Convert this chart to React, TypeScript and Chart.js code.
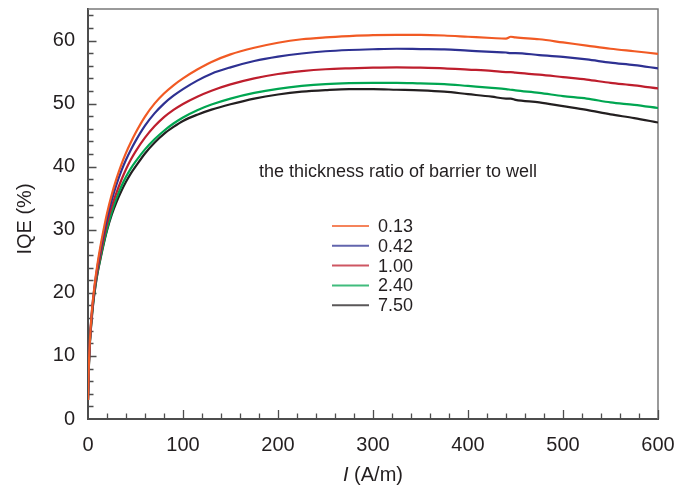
import React, { useEffect, useRef } from "react";
import { Chart, registerables } from "chart.js";

Chart.register(...registerables);

// Current density I (A/m)
const currents = [0, 1, 2, 4, 6, 8, 10, 13, 16, 20, 25, 30, 35, 40, 45, 50, 60, 70, 80, 90, 100, 115, 130, 150, 175, 200, 225, 250, 275, 300, 325, 350, 375, 400, 425, 440, 445, 450, 475, 500, 525, 550, 575, 600];

// IQE (%) for each thickness ratio of barrier to well
const iqe013 = [3, 9, 12.5, 17, 20, 22.5, 24.6, 27.3, 29.7, 32.6, 35.6, 38.1, 40.3, 42.2, 43.85, 45.35, 47.95, 50.0, 51.6, 52.9, 54.0, 55.4, 56.6, 57.8, 58.85, 59.65, 60.2, 60.5, 60.7, 60.85, 60.9, 60.9, 60.8, 60.6, 60.4, 60.3, 60.6, 60.5, 60.2, 59.7, 59.2, 58.7, 58.3, 57.9];
const iqe042 = [3, 9, 12.5, 16.8, 19.8, 22.2, 24.2, 26.8, 29.1, 31.8, 34.7, 37.2, 39.3, 41.1, 42.65, 44.05, 46.5, 48.45, 50.0, 51.25, 52.3, 53.65, 54.75, 55.75, 56.75, 57.45, 57.95, 58.3, 58.5, 58.62, 58.7, 58.65, 58.6, 58.4, 58.2, 58.1, 58.0, 58.0, 57.7, 57.4, 57.0, 56.5, 56.1, 55.6];
const iqe100 = [3, 8.8, 12.3, 16.5, 19.5, 21.8, 23.6, 26, 28.3, 31, 33.7, 35.9, 37.85, 39.6, 41.1, 42.4, 44.6, 46.4, 47.85, 49.0, 49.95, 51.1, 52.05, 53.05, 54.0, 54.7, 55.15, 55.45, 55.6, 55.7, 55.75, 55.7, 55.6, 55.4, 55.2, 55.0, 55.0, 54.9, 54.6, 54.2, 53.8, 53.3, 52.9, 52.4];
const iqe240 = [3, 8.7, 12.2, 16.3, 19.2, 21.4, 23.2, 25.5, 27.6, 30.1, 32.8, 35, 36.85, 38.4, 39.7, 40.8, 42.75, 44.35, 45.7, 46.85, 47.8, 48.95, 49.85, 50.8, 51.7, 52.35, 52.8, 53.1, 53.25, 53.3, 53.3, 53.2, 53.1, 52.8, 52.5, 52.3, 52.2, 52.1, 51.7, 51.2, 50.8, 50.2, 49.8, 49.3];
const iqe750 = [3, 8.6, 12, 16, 19, 21.2, 23.1, 25.3, 27.4, 29.9, 32.4, 34.4, 36.1, 37.6, 38.9, 40.0, 42.1, 43.8, 45.2, 46.3, 47.25, 48.25, 49.05, 49.9, 50.8, 51.45, 51.9, 52.15, 52.3, 52.3, 52.2, 52.1, 51.9, 51.5, 51.1, 50.8, 50.8, 50.6, 50.2, 49.6, 49.0, 48.3, 47.7, 47.0];

const seriesLabels = ["0.13", "0.42", "1.00", "2.40", "7.50"];
const seriesValues = [iqe013, iqe042, iqe100, iqe240, iqe750];
const seriesColors = ["#f15a24", "#2e3192", "#be1e2d", "#00a651", "#231f20"];

const legendTitle = "the thickness ratio of barrier to well";
const xTitleItalic = "I";
const xTitleRest = " (A/m)";
const yTitle = "IQE (%)";

const FONT = "'Liberation Sans', Arial, Helvetica, sans-serif";
const TEXT = "#231f20";
const AXIS = "#4d4d4d";

const framePlugin = {
  id: "frameTicks",
  beforeDatasetsDraw(chart: any) {
    const { ctx, chartArea: a, scales } = chart;
    const xs = scales.x;
    const ys = scales.y;
    ctx.save();
    ctx.strokeStyle = "#7a7a7a";
    ctx.lineWidth = 1.5;
    ctx.beginPath();
    ctx.moveTo(a.left, a.top);
    ctx.lineTo(a.right, a.top);
    ctx.lineTo(a.right, a.bottom);
    ctx.stroke();

    ctx.strokeStyle = AXIS;
    ctx.lineWidth = 1.3;
    ctx.beginPath();
    for (let v = 20; v <= 600; v += 20) {
      const px = Math.round(xs.getPixelForValue(v)) + 0.5;
      const len = v % 100 === 0 ? 9 : 5.5;
      ctx.moveTo(px, a.bottom);
      ctx.lineTo(px, a.bottom - len);
    }
    for (let v = 2; v <= 64; v += 2) {
      const py = Math.round(ys.getPixelForValue(v)) + 0.5;
      const len = v % 10 === 0 ? 8.5 : 5.5;
      ctx.moveTo(a.left, py);
      ctx.lineTo(a.left + len, py);
    }
    ctx.stroke();
    ctx.restore();
  },
  afterDraw(chart: any) {
    const { ctx, chartArea: a } = chart;
    ctx.save();
    ctx.fillStyle = TEXT;
    ctx.font = `18px ${FONT}`;
    ctx.textBaseline = "middle";
    ctx.textAlign = "left";
    ctx.fillText(legendTitle, a.left + 171, 172);
    chart.data.datasets.forEach((ds: any, i: number) => {
      const cy = 226 + i * 19.8;
      ctx.strokeStyle = ds.borderColor;
      ctx.globalAlpha = 0.75;
      ctx.lineWidth = 2;
      ctx.beginPath();
      ctx.moveTo(a.left + 244, cy);
      ctx.lineTo(a.left + 281, cy);
      ctx.stroke();
      ctx.globalAlpha = 1;
      ctx.fillStyle = TEXT;
      ctx.font = `18px ${FONT}`;
      ctx.fillText(ds.label, a.left + 290, cy + 1);
    });
    // x axis title with italic I
    ctx.font = `italic 20px ${FONT}`;
    const w1 = ctx.measureText(xTitleItalic).width;
    ctx.font = `20px ${FONT}`;
    const w2 = ctx.measureText(xTitleRest).width;
    const cx = (a.left + a.right) / 2;
    const start = cx - (w1 + w2) / 2;
    ctx.font = `italic 20px ${FONT}`;
    ctx.fillText(xTitleItalic, start, 475);
    ctx.font = `20px ${FONT}`;
    ctx.fillText(xTitleRest, start + w1, 475);
    // y axis title
    ctx.translate(25, (a.top + a.bottom) / 2 + 5);
    ctx.rotate(-Math.PI / 2);
    ctx.textAlign = "center";
    ctx.fillText(yTitle, 0, 0);
    ctx.restore();
  },
};

export default function App() {
  const canvasRef = useRef<HTMLCanvasElement | null>(null);

  useEffect(() => {
    const canvas = canvasRef.current;
    if (!canvas) return;
    const chart = new Chart(canvas, {
      type: "scatter",
      data: {
        datasets: seriesValues.map((vals, i) => ({
          label: seriesLabels[i],
          data: currents.map((c, j) => ({ x: c, y: vals[j] })),
          showLine: true,
          borderColor: seriesColors[i],
          backgroundColor: seriesColors[i],
          borderWidth: 2.2,
          pointRadius: 0,
          cubicInterpolationMode: "monotone" as const,
        })),
      },
      options: {
        animation: false,
        responsive: true,
        maintainAspectRatio: false,
        layout: { padding: { top: 9, right: 32, bottom: 0, left: 0 } },
        plugins: {
          legend: { display: false },
          tooltip: { enabled: false },
        },
        scales: {
          x: {
            type: "linear",
            min: 0,
            max: 600,
            afterFit: (s: any) => {
              s.height = 68;
              s.paddingLeft = 0;
              s.paddingRight = 0;
            },
            grid: { display: true, drawOnChartArea: false, drawTicks: false },
            border: { display: true, color: AXIS, width: 2 },
            ticks: {
              stepSize: 100,
              padding: 14,
              color: TEXT,
              font: { family: FONT, size: 20 },
              maxRotation: 0,
              includeBounds: false,
            },
            title: { display: false },
          },
          y: {
            type: "linear",
            min: 0,
            max: 65,
            afterFit: (s: any) => {
              s.width = 88;
              s.paddingTop = 0;
              s.paddingBottom = 0;
            },
            grid: { display: true, drawOnChartArea: false, drawTicks: false },
            border: { display: true, color: AXIS, width: 2 },
            ticks: {
              stepSize: 10,
              padding: 13,
              color: TEXT,
              font: { family: FONT, size: 20 },
              includeBounds: false,
            },
            title: { display: false },
          },
        },
      },
      plugins: [framePlugin],
    });
    return () => chart.destroy();
  }, []);

  return (
    <div style={{ position: "absolute", left: 0, top: 0, width: 690, height: 487, background: "#fff" }}>
      <canvas ref={canvasRef} />
    </div>
  );
}
